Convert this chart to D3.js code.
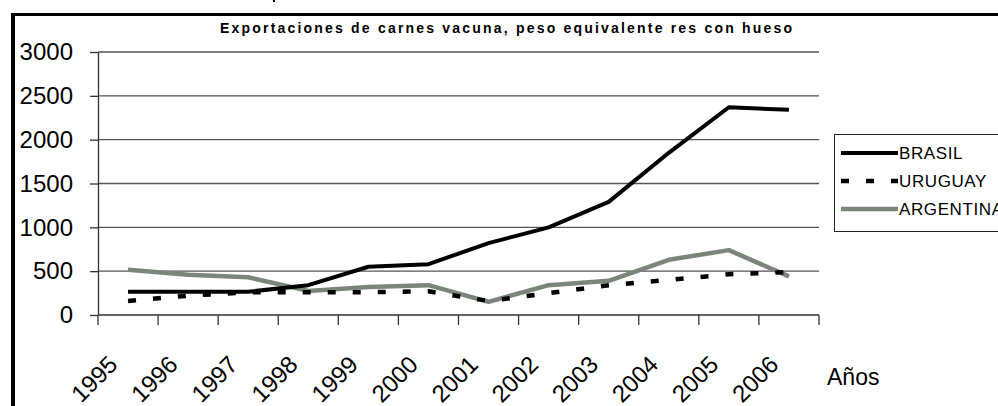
<!DOCTYPE html>
<html>
<head>
<meta charset="utf-8">
<script src="https://d3js.org/d3.v7.min.js"></script>
<style>
  body { margin: 0; background: #fff; }
  svg { display: block; font-family: "Liberation Sans", Arial, sans-serif; }
</style>
</head>
<body>
<svg id="chart" width="998" height="406"></svg>
<script>
// Data
const years = ["1995", "1996", "1997", "1998", "1999", "2000", "2001", "2002", "2003", "2004", "2005", "2006"];
const brasil = [265, 265, 265, 340, 550, 580, 820, 1000, 1290, 1850, 2370, 2340];
const uruguay = [160, 220, 260, 260, 260, 270, 160, 250, 340, 400, 465, 490];
const argentina = [515, 460, 430, 275, 320, 340, 150, 340, 390, 630, 740, 440];
const yTicks = [0, 500, 1000, 1500, 2000, 2500, 3000];
const seriesNames = ["BRASIL", "URUGUAY", "ARGENTINA"];

const title = "Exportaciones de carnes vacuna, peso equivalente res con hueso";

const svg = d3.select("#chart");

// Frame (black border at left and top)
svg.append("rect").attr("x", 11).attr("y", 13).attr("width", 4).attr("height", 393).attr("fill", "#000");
svg.append("rect").attr("x", 11).attr("y", 13).attr("width", 987).attr("height", 3).attr("fill", "#000");
svg.append("rect").attr("x", 273).attr("y", 0).attr("width", 2).attr("height", 2).attr("fill", "#000");

// Scales
const x = d3.scaleBand().domain(years).range([98, 819]).padding(0);
const y = d3.scaleLinear().domain([0, 3000]).range([315, 52]);
const cx = d => x(d) + x.bandwidth() / 2;

// Gridlines
svg.append("g")
  .selectAll("line")
  .data(yTicks.filter(v => v > 0))
  .join("line")
  .attr("x1", 98).attr("x2", 819)
  .attr("y1", d => y(d)).attr("y2", d => y(d))
  .attr("stroke", "#555").attr("stroke-width", 1.3);

// Y axis
const yAxis = svg.append("g")
  .attr("transform", "translate(98,0)")
  .call(d3.axisLeft(y).tickValues(yTicks).tickFormat(d3.format("d"))
    .tickSize(8).tickPadding(17).tickSizeOuter(0));
yAxis.select(".domain").attr("stroke", "#333").attr("stroke-width", 1.3);
yAxis.selectAll(".tick line").attr("stroke", "#333").attr("stroke-width", 1.3);
yAxis.selectAll(".tick text")
  .attr("font-size", 24).attr("fill", "#000")
  .attr("font-family", "'Liberation Sans', Arial, sans-serif");

// X axis line and ticks at category boundaries
svg.append("line")
  .attr("x1", 98).attr("x2", 819).attr("y1", 315).attr("y2", 315)
  .attr("stroke", "#333").attr("stroke-width", 1.3);
const edges = years.map(d => x(d)).concat([x(years[years.length - 1]) + x.bandwidth()]);
svg.append("g")
  .selectAll("line")
  .data(edges)
  .join("line")
  .attr("x1", d => d).attr("x2", d => d)
  .attr("y1", 315).attr("y2", 325)
  .attr("stroke", "#333").attr("stroke-width", 1.3);

// X labels, rotated
svg.append("g")
  .selectAll("text")
  .data(years)
  .join("text")
  .attr("transform", d => `translate(${cx(d) - 9},366) rotate(-45)`)
  .attr("text-anchor", "end")
  .attr("font-size", 24)
  .attr("fill", "#000")
  .text(d => d);

// Axis title
svg.append("text")
  .attr("x", 827).attr("y", 385)
  .attr("font-size", 23)
  .attr("fill", "#000")
  .text("Años");

// Chart title
svg.append("text")
  .attr("x", 220).attr("y", 33)
  .attr("font-size", 14).attr("font-weight", "bold")
  .attr("textLength", 572).attr("lengthAdjust", "spacing")
  .attr("fill", "#000")
  .text(title);

// Lines
const styles = [
  { color: "#000", width: 4, dash: null },
  { color: "#000", width: 4.5, dash: "8,17" },
  { color: "#7b857b", width: 4.5, dash: null }
];
const allSeries = [brasil, uruguay, argentina];

const line = d3.line()
  .x((d, i) => cx(years[i]))
  .y(d => y(d));

// draw argentina first, then uruguay, then brasil on top
[2, 1, 0].forEach(k => {
  svg.append("path")
    .datum(allSeries[k])
    .attr("d", line)
    .attr("fill", "none")
    .attr("stroke", styles[k].color)
    .attr("stroke-width", styles[k].width)
    .attr("stroke-linejoin", "round")
    .attr("stroke-dasharray", styles[k].dash);
});

// Legend
const legend = svg.append("g");
legend.append("rect")
  .attr("x", 834.5).attr("y", 134.5).attr("width", 200).attr("height", 97)
  .attr("fill", "#fff").attr("stroke", "#222").attr("stroke-width", 1);

const legendRows = legend.selectAll("g.row")
  .data(seriesNames)
  .join("g")
  .attr("class", "row")
  .attr("transform", (d, i) => `translate(0,${153 + i * 28})`);

legendRows.append("line")
  .attr("x1", 841).attr("x2", 898).attr("y1", 0).attr("y2", 0)
  .attr("stroke", (d, i) => styles[i].color)
  .attr("stroke-width", (d, i) => styles[i].width)
  .attr("stroke-dasharray", (d, i) => styles[i].dash);

legendRows.append("text")
  .attr("x", 899).attr("y", 6)
  .attr("font-size", 17)
  .attr("letter-spacing", 0.6)
  .attr("fill", "#000")
  .text(d => d);
</script>
</body>
</html>
